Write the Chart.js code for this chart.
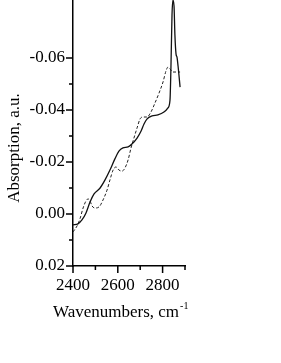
<!DOCTYPE html>
<html>
<head>
<meta charset="utf-8">
<script src="https://cdn.jsdelivr.net/npm/chart.js@4"></script>
<style>
  html, body { margin: 0; padding: 0; background: #fff; }
  #wrap { width: 281px; height: 363px; }
</style>
</head>
<body>
<div id="wrap"><canvas id="mychart" width="281" height="363"></canvas></div>
<script>
// 實線 (solid)
var solidX = [2400, 2422, 2440, 2458, 2476, 2494, 2521, 2543, 2565, 2587, 2605, 2623, 2646, 2663, 2686, 2704, 2717, 2730, 2753, 2779, 2806, 2824, 2833, 2837, 2842, 2846, 2851, 2855, 2860, 2864, 2869, 2878]
var solidY = [0.0042, 0.0038, 0.0023, -0.0004, -0.0046, -0.0077, -0.0100, -0.0131, -0.0169, -0.0212, -0.0242, -0.0254, -0.0258, -0.0269, -0.0292, -0.0319, -0.0346, -0.0365, -0.0377, -0.0381, -0.0392, -0.0408, -0.0438, -0.0554, -0.0765, -0.0823, -0.0800, -0.0688, -0.0615, -0.0604, -0.0569, -0.0488]
// 虛線 (dashed)
var dashX = [2400, 2418, 2431, 2445, 2458, 2467, 2476, 2485, 2498, 2516, 2534, 2552, 2565, 2579, 2592, 2605, 2619, 2632, 2646, 2659, 2672, 2686, 2699, 2712, 2730, 2748, 2766, 2784, 2802, 2815, 2824, 2833, 2846, 2860, 2878]
var dashY = [0.0069, 0.0046, 0.0019, -0.0023, -0.0050, -0.0058, -0.0050, -0.0031, -0.0023, -0.0027, -0.0054, -0.0092, -0.0131, -0.0169, -0.0181, -0.0169, -0.0165, -0.0177, -0.0208, -0.0254, -0.0292, -0.0331, -0.0365, -0.0373, -0.0373, -0.0392, -0.0427, -0.0465, -0.0508, -0.0550, -0.0565, -0.0558, -0.0546, -0.0546, -0.0546]
// 刻度
var xTicks = [2400, 2500, 2600, 2700, 2800, 2900]
var xLabels = [2400, 2600, 2800]
var yTicks = [-0.06, -0.05, -0.04, -0.03, -0.02, -0.01, 0.00, 0.01, 0.02]
var yLabels = [-0.06, -0.04, -0.02, 0.00, 0.02]
var xTitle = 'Wavenumbers, cm'
var xTitleSup = '-1'
var yTitle = 'Absorption, a.u.'

var FONT = '"Liberation Serif", "Times New Roman", serif'

function toPoints(xs, ys){
    var pts = []
    for (var i = 0; i < xs.length; i++) pts.push({x: xs[i], y: ys[i]})
    return pts
}

function isMajor(list, v){
    for (var i = 0; i < list.length; i++) {
        if (Math.abs(list[i] - v) < 1e-9) return true
    }
    return false
}

// 自己畫刻度線和軸標題
var axisDeco = {
    id: 'axisDeco',
    afterDraw: function(chart){
        var c = chart.ctx
        var xs = chart.scales.x
        var ys = chart.scales.y
        var area = chart.chartArea
        c.save()
        c.strokeStyle = '#000'
        c.lineWidth = 1.5
        c.beginPath()
        xTicks.forEach(function(v){
            var px = xs.getPixelForValue(v)
            var len = isMajor(xLabels, v) ? 7 : 4
            c.moveTo(px, area.bottom)
            c.lineTo(px, area.bottom + len)
        })
        yTicks.forEach(function(v){
            var py = ys.getPixelForValue(v)
            var len = isMajor(yLabels, v) ? 7 : 4
            c.moveTo(area.left, py)
            c.lineTo(area.left - len, py)
        })
        c.stroke()

        c.fillStyle = '#000'
        // x 軸標題 + 上標
        c.font = '17px ' + FONT
        c.textBaseline = 'alphabetic'
        c.textAlign = 'left'
        var tx = area.left - 20
        var ty = area.bottom + 51
        c.fillText(xTitle, tx, ty)
        var w = c.measureText(xTitle).width
        c.font = '10px ' + FONT
        c.fillText(xTitleSup, tx + w + 1, ty - 8)

        // y 軸標題
        c.font = '17px ' + FONT
        c.translate(15, 148)
        c.rotate(-Math.PI / 2)
        c.textAlign = 'center'
        c.textBaseline = 'middle'
        c.fillText(yTitle, 0, 0)
        c.restore()
    }
}

var ctx = document.getElementById('mychart').getContext('2d')
var linechart = new Chart(ctx, {
    type: 'line',
    data: {
        datasets: [{
            label: 'solid',
            data: toPoints(solidX, solidY),
            borderColor: '#111',
            borderWidth: 1.3,
            pointRadius: 0,
            fill: false,
            cubicInterpolationMode: 'monotone'
        }, {
            label: 'dashed',
            data: toPoints(dashX, dashY),
            borderColor: '#222',
            borderWidth: 1,
            borderDash: [3, 2],
            pointRadius: 0,
            fill: false,
            cubicInterpolationMode: 'monotone'
        }]
    },
    options: {
        responsive: false,
        animation: false,
        layout: { padding: { left: 0, top: 0, right: 96, bottom: 0 } },
        plugins: { legend: { display: false }, tooltip: { enabled: false } },
        scales: {
            x: {
                type: 'linear',
                min: 2400,
                max: 2900,
                afterBuildTicks: function(s){ s.ticks = xTicks.map(function(v){ return {value: v} }) },
                afterFit: function(s){ s.height = 97; s.paddingLeft = 0; s.paddingRight = 0 },
                grid: { display: true, drawOnChartArea: false, drawTicks: false },
                border: { display: true, color: '#000', width: 1.5 },
                ticks: {
                    padding: 9,
                    maxRotation: 0,
                    autoSkip: false,
                    color: '#000',
                    font: { family: FONT, size: 17 },
                    callback: function(v){ return isMajor(xLabels, v) ? String(v) : '' }
                }
            },
            y: {
                type: 'linear',
                reverse: true,
                min: -0.0823,
                max: 0.02,
                afterBuildTicks: function(s){ s.ticks = yTicks.map(function(v){ return {value: v} }) },
                afterFit: function(s){ s.width = 73; s.paddingTop = 0; s.paddingBottom = 0 },
                grid: { display: true, drawOnChartArea: false, drawTicks: false },
                border: { display: true, color: '#000', width: 1.5 },
                ticks: {
                    padding: 8,
                    autoSkip: false,
                    color: '#000',
                    font: { family: FONT, size: 17 },
                    callback: function(v){ return isMajor(yLabels, v) ? v.toFixed(2) : '' }
                }
            }
        }
    },
    plugins: [axisDeco]
})
</script>
</body>
</html>
